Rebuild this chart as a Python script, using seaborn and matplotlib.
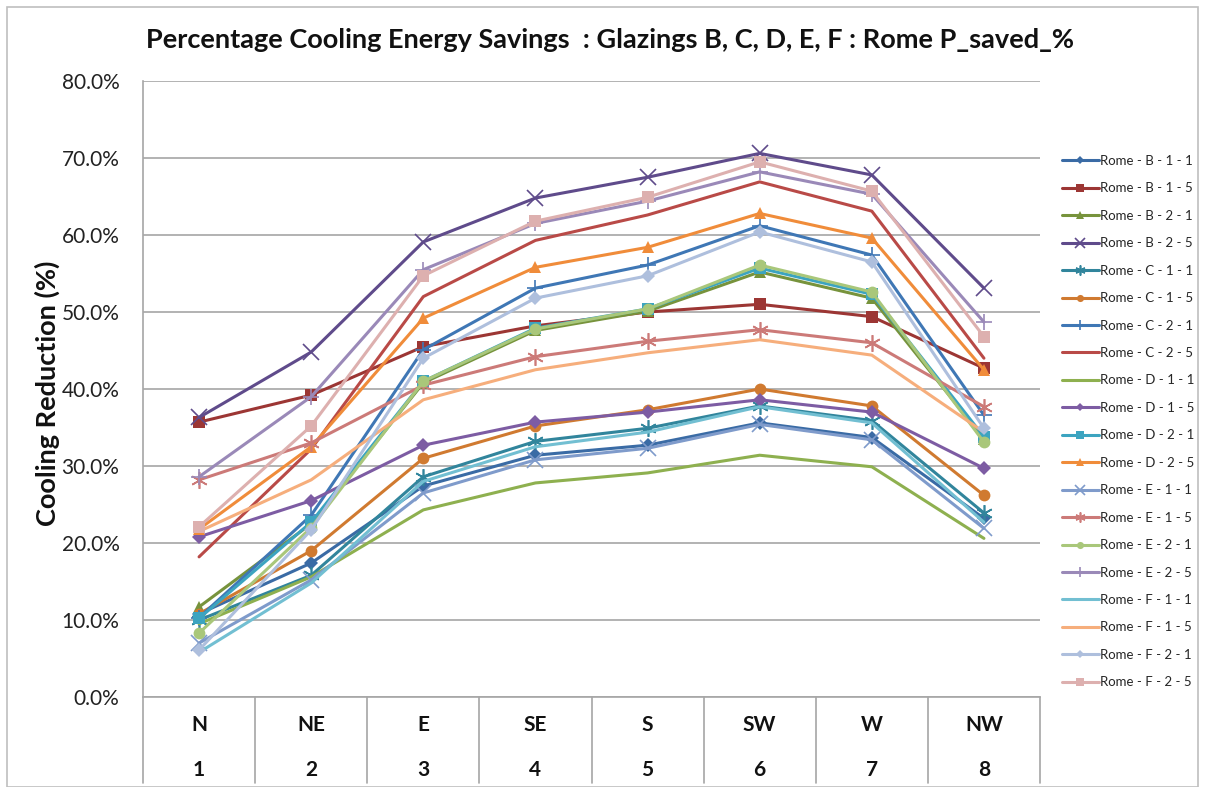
import matplotlib
matplotlib.use("Agg")
import matplotlib.pyplot as plt
import matplotlib.patches as mpatches
import matplotlib.transforms as mtransforms
from matplotlib.ticker import FuncFormatter, MultipleLocator
import numpy as np
import pandas as pd
import seaborn as sns

# ---------------- data ----------------
orientations = ["N", "NE", "E", "SE", "S", "SW", "W", "NW"]
orient_index = ["1", "2", "3", "4", "5", "6", "7", "8"]

series_names = [
    "Rome - B - 1 - 1", "Rome - B - 1 - 5", "Rome - B - 2 - 1", "Rome - B - 2 - 5",
    "Rome - C - 1 - 1", "Rome - C - 1 - 5", "Rome - C - 2 - 1", "Rome - C - 2 - 5",
    "Rome - D - 1 - 1", "Rome - D - 1 - 5", "Rome - D - 2 - 1", "Rome - D - 2 - 5",
    "Rome - E - 1 - 1", "Rome - E - 1 - 5", "Rome - E - 2 - 1", "Rome - E - 2 - 5",
    "Rome - F - 1 - 1", "Rome - F - 1 - 5", "Rome - F - 2 - 1", "Rome - F - 2 - 5",
]

b_1_1 = [10.8, 17.4, 27.4, 31.4, 32.7, 35.6, 33.7, 23.2]
b_1_5 = [35.7, 39.2, 45.5, 48.2, 50.0, 51.0, 49.4, 42.7]
b_2_1 = [11.7, 22.5, 40.8, 47.6, 50.1, 55.2, 51.8, 33.5]
b_2_5 = [36.3, 44.8, 59.1, 64.8, 67.5, 70.6, 67.8, 53.1]
c_1_1 = [10.0, 15.8, 28.6, 33.2, 34.9, 37.8, 35.9, 23.9]
c_1_5 = [10.8, 19.0, 31.0, 35.2, 37.3, 40.0, 37.8, 26.2]
c_2_1 = [10.3, 23.6, 45.1, 53.1, 56.1, 61.2, 57.4, 36.6]
c_2_5 = [18.2, 32.2, 52.0, 59.3, 62.6, 66.9, 63.1, 44.0]
d_1_1 = [9.5, 15.6, 24.3, 27.8, 29.1, 31.4, 29.9, 20.6]
d_1_5 = [20.8, 25.5, 32.7, 35.7, 37.0, 38.6, 37.0, 29.7]
d_2_1 = [10.2, 22.7, 41.0, 47.9, 50.4, 55.7, 52.3, 33.8]
d_2_5 = [21.8, 32.5, 49.2, 55.8, 58.4, 62.8, 59.6, 42.5]
e_1_1 = [7.0, 15.2, 26.5, 30.8, 32.3, 35.4, 33.4, 21.9]
e_1_5 = [28.2, 33.0, 40.5, 44.2, 46.2, 47.7, 46.0, 37.7]
e_2_1 = [8.3, 22.0, 41.0, 47.8, 50.4, 56.1, 52.6, 33.1]
e_2_5 = [28.6, 39.0, 55.5, 61.5, 64.4, 68.2, 65.3, 48.7]
f_1_1 = [5.8, 14.8, 28.0, 32.5, 34.4, 37.7, 35.6, 22.7]
f_1_5 = [21.5, 28.2, 38.6, 42.5, 44.7, 46.4, 44.4, 34.4]
f_2_1 = [6.1, 21.7, 44.0, 51.8, 54.7, 60.4, 56.5, 34.9]
f_2_5 = [22.1, 35.2, 54.7, 61.8, 64.9, 69.5, 65.7, 46.8]

series_values = [b_1_1, b_1_5, b_2_1, b_2_5, c_1_1, c_1_5, c_2_1, c_2_5,
                 d_1_1, d_1_5, d_2_1, d_2_5, e_1_1, e_1_5, e_2_1, e_2_5,
                 f_1_1, f_1_5, f_2_1, f_2_5]

# ---------------- styles ----------------
colors = ["#3A6BA5", "#9C3634", "#77933C", "#5F4B8B",
          "#31859C", "#D07A30", "#3F77B5", "#B94A47",
          "#8EB04F", "#7D5CA3", "#3CA4C0", "#F08C3A",
          "#7F9BCB", "#CC7A78", "#A9C77A", "#9A89B8",
          "#72BFD2", "#F6AE7C", "#AEBFDD", "#DDB0AF"]
markers = ["D", "s", "^", "x", (6, 2, 0), "o", "+", None,
           None, "D", "s", "^", "x", (6, 2, 0), "o", "+",
           None, None, "D", "s"]
msizes = {"D": 7, "s": 8.5, "^": 8.5, "x": 11, "o": 8.5, "+": 12}

df = pd.DataFrame({
    "series": np.repeat(series_names, len(orientations)),
    "pos": np.tile(np.arange(len(orientations)), len(series_names)),
    "value": np.concatenate(series_values),
})

sns.set_theme(style="white")
plt.rcParams["font.family"] = ["Lato", "DejaVu Sans"]

W, H = 1205, 787
fig = plt.figure(figsize=(W / 100, H / 100), dpi=100)
left, right, top, bottom = 143, 1040, 81, 697
ax = fig.add_axes([left / W, 1 - bottom / H, (right - left) / W, (bottom - top) / H])

for name, col, mk in zip(series_names, colors, markers):
    sub = df[df["series"] == name]
    if mk is None:
        kw = dict(marker=None)
    elif isinstance(mk, tuple):
        kw = dict(marker=mk, markersize=12, markeredgewidth=1.2,
                  markeredgecolor=col)
    elif mk in ("x", "+"):
        kw = dict(marker=mk, markersize=msizes[mk], markeredgewidth=1.2,
                  markeredgecolor=col)
    else:
        kw = dict(marker=mk, markersize=msizes[mk], markeredgewidth=0,
                  markerfacecolor=col)
    sns.lineplot(data=sub, x="pos", y="value", ax=ax, color=col, linewidth=2.2,
                 label=name, legend=False, **kw)

ax.set_xlim(-0.5, len(orientations) - 0.5)
ax.set_ylim(0, 80)
ax.yaxis.set_major_locator(MultipleLocator(10))
ax.yaxis.set_major_formatter(FuncFormatter(lambda v, p: f"{v:.1f}%"))
ax.tick_params(axis="y", labelsize=15, pad=17, length=0, colors="#222222")
ax.set_xticks([])
ax.set_xlabel("")
ax.set_ylabel("Cooling Reduction (%)", fontsize=19.5, fontweight="bold",
              color="#111111", va="center")
ax.yaxis.set_label_coords((47 - left) / (right - left), (bottom - 393) / (bottom - top))
ax.yaxis.grid(True, color="#A6A6A6", linewidth=1.2)
ax.set_axisbelow(True)
for s in ["top", "right"]:
    ax.spines[s].set_visible(False)
for s in ["left", "bottom"]:
    ax.spines[s].set_color("#A6A6A6")
    ax.spines[s].set_linewidth(1.2)

# category axis (two levels)
trans = mtransforms.blended_transform_factory(ax.transData, ax.transAxes)
ext = (783 - bottom) / (bottom - top)
for b in np.arange(-0.5, len(orientations), 1.0):
    ax.plot([b, b], [0, -ext], transform=trans, color="#A6A6A6", lw=1.2,
            clip_on=False)
row1 = -(725 - bottom) / (bottom - top)
row2 = -(770 - bottom) / (bottom - top)
for i, (o, n) in enumerate(zip(orientations, orient_index)):
    ax.text(i, row1, o, transform=trans, ha="center", va="center",
            fontsize=15, fontweight="bold", color="#111111")
    ax.text(i, row2, n, transform=trans, ha="center", va="center",
            fontsize=15, fontweight="bold", color="#111111")

fig.text(610 / W, 1 - 40 / H,
         "Percentage Cooling Energy Savings  : Glazings B, C, D, E, F : Rome P_saved_%",
         ha="center", va="center", fontsize=19.5, fontweight="bold", color="#111111")

handles, labels = ax.get_legend_handles_labels()
fig.legend(handles, labels, loc="upper left", bbox_to_anchor=(1062 / W, 1 - 155 / H),
           frameon=False, fontsize=9.5, labelspacing=1.17, handlelength=2.8,
           handletextpad=0.1, borderaxespad=0, borderpad=0, markerscale=0.6)

fig.patches.append(mpatches.Rectangle((7 / W, 0), (W - 14) / W, 1 - 7 / H,
                                      transform=fig.transFigure, fill=False,
                                      edgecolor="#BFBFBF", linewidth=1.2))

fig.savefig("out.png", dpi=100, facecolor="white")
